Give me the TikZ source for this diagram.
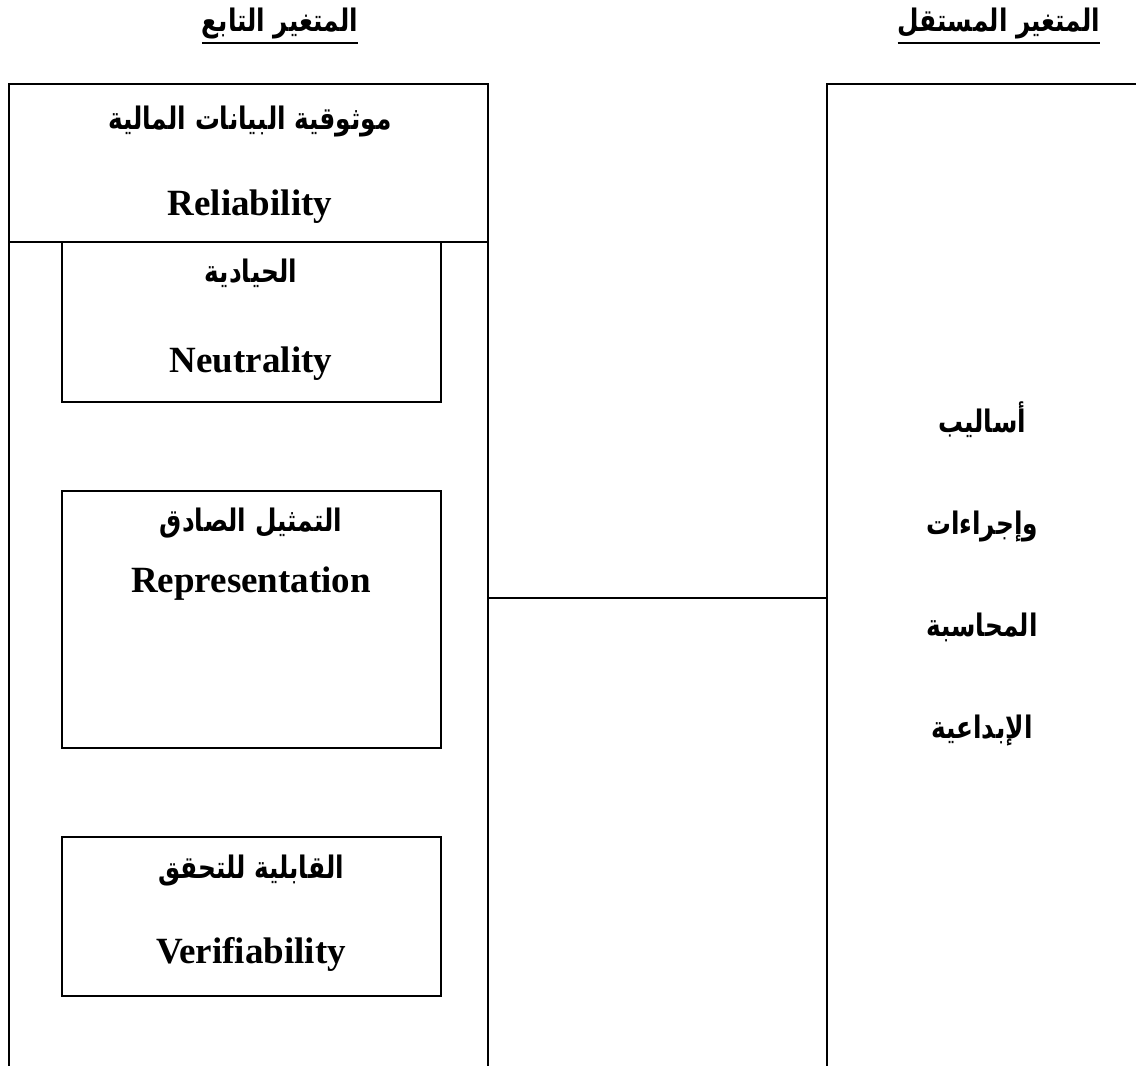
\documentclass[tikz,border=0pt]{standalone}
\usepackage{fontspec}
\setmainfont{Liberation Serif}
\newfontfamily\arabicfont[Script=Arabic, FakeStretch=0.8]{DejaVu Sans}
\TeXXeTstate=1
\newcommand{\artext}[1]{{\arabicfont\bfseries\beginR #1\endR}}
\newcommand{\ulhead}[1]{\vtop{\hbox{#1}\kern1.5pt\hrule height 1.2pt}}

\begin{document}
\begin{tikzpicture}[x=0.5pt, y=-0.5pt]
    \tikzstyle{frame}=[
        draw = black,
        line width = 1pt,
        rectangle,
        inner sep = 0pt
    ]
    \tikzstyle{arlabel}=[
        font = \fontsize{15.5}{18}\selectfont,
        inner sep = 0pt
    ]
    \tikzstyle{enlabel}=[
        font = \fontsize{18.5}{22}\selectfont\bfseries,
        inner sep = 0pt
    ]

    \useasboundingbox (0,0) rectangle (1136,1066);
    \clip (0,0) rectangle (1136,1066);

    % headings
    \node[arlabel] (dephead)   at (280,26)  {\ulhead{\artext{المتغير التابع}}};
    \node[arlabel] (indephead) at (999,26)  {\ulhead{\artext{المتغير المستقل}}};

    % dependent variable
    \node[frame, minimum width=239.5pt, minimum height=514pt]  (dep)   at (248.5,598)   {};
    \node[frame, minimum width=239.5pt, minimum height=79pt]   (rel)   at (248.5,163)   {};
    \node[frame, minimum width=189.5pt, minimum height=80pt]   (neut)  at (251.5,322)   {};
    \node[frame, minimum width=189.5pt, minimum height=128.5pt] (repr) at (251.5,619.5) {};
    \node[frame, minimum width=189.5pt, minimum height=79.5pt] (verif) at (251.5,916.5) {};

    \node[arlabel] (relar)   at (250,122) {\artext{موثوقية البيانات المالية}};
    \node[enlabel] (relen)   at (250,207) {Reliability};
    \node[arlabel] (neutar)  at (251,273) {\artext{الحيادية}};
    \node[enlabel] (neuten)  at (251,364) {Neutrality};
    \node[arlabel] (reprar)  at (251,523) {\artext{التمثيل الصادق}};
    \node[enlabel] (repren)  at (251,584) {Representation};
    \node[arlabel] (verifar) at (251,871) {\artext{القابلية للتحقق}};
    \node[enlabel] (verifen) at (251,954) {Verifiability};

    % independent variable
    \node[frame, minimum width=161.5pt, minimum height=514pt] (indep) at (988.5,598) {};
    \node[arlabel, align=center, font=\fontsize{15.5}{51}\selectfont] (meth) at (982,574)
        {\artext{أساليب}\\\artext{وإجراءات}\\\artext{المحاسبة}\\\artext{الإبداعية}};

    \draw[line width=1pt] (dep.east) -- (indep.west);

\end{tikzpicture}
\end{document}
